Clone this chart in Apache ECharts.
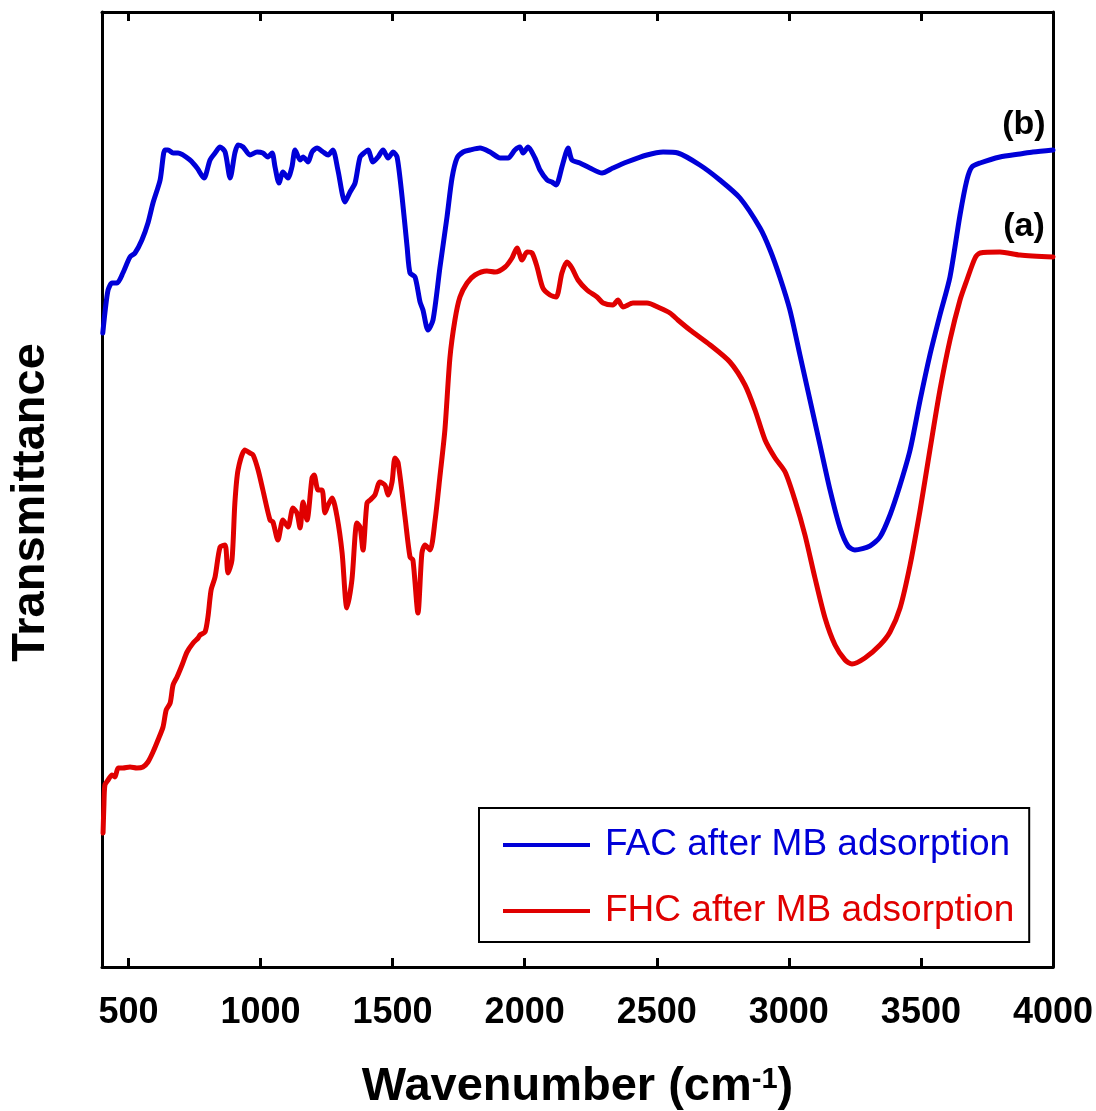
<!DOCTYPE html>
<html>
<head>
<meta charset="utf-8">
<script src="https://cdn.jsdelivr.net/npm/echarts@6/dist/echarts.min.js"></script>
<style>
  html, body { margin: 0; padding: 0; background: #fff; }
  #chart { width: 1096px; height: 1111px; }
</style>
</head>
<body>
<div id="chart"></div>
<script>
// Wavenumber (cm-1) and transmittance (arbitrary units)
const xTicks = [500, 1000, 1500, 2000, 2500, 3000, 3500, 4000];

const facWn = [403, 411, 423, 438, 457, 479, 506, 525, 551, 574, 593, 620, 638, 650, 669, 688, 733, 760, 786, 809, 828, 847, 866, 885, 903, 915, 934, 960, 987, 1009, 1028, 1044, 1055, 1070, 1085, 1104, 1119, 1131, 1150, 1161, 1180, 1195, 1214, 1237, 1256, 1274, 1293, 1320, 1339, 1358, 1377, 1396, 1407, 1426, 1445, 1464, 1483, 1502, 1517, 1536, 1555, 1566, 1585, 1604, 1615, 1634, 1653, 1679, 1706, 1725, 1744, 1767, 1793, 1831, 1869, 1907, 1937, 1963, 1982, 1994, 2013, 2039, 2058, 2085, 2103, 2119, 2141, 2156, 2164, 2179, 2209, 2247, 2293, 2334, 2387, 2463, 2524, 2580, 2663, 2739, 2815, 2891, 2929, 2967, 3004, 3042, 3080, 3118, 3156, 3194, 3224, 3250, 3307, 3345, 3383, 3421, 3459, 3497, 3534, 3572, 3610, 3648, 3674, 3693, 3724, 3799, 3875, 3924, 4000];
const facT = [63.4, 65.4, 67.7, 68.4, 68.4, 69.4, 71.0, 71.4, 72.7, 74.4, 76.4, 78.7, 81.7, 81.7, 81.4, 81.4, 80.7, 79.9, 78.9, 80.7, 81.4, 82.0, 81.5, 78.9, 81.4, 82.2, 82.0, 81.2, 81.5, 81.4, 81.0, 81.4, 80.0, 78.4, 79.5, 78.9, 80.0, 81.7, 80.7, 81.0, 80.5, 81.5, 81.9, 81.5, 81.2, 81.7, 79.7, 76.5, 77.5, 78.4, 81.0, 81.5, 81.7, 80.5, 81.0, 81.7, 80.9, 81.5, 81.0, 77.0, 72.0, 69.4, 69.0, 66.5, 65.7, 63.7, 64.7, 69.9, 75.0, 78.9, 80.9, 81.5, 81.7, 81.9, 81.5, 80.9, 80.9, 81.7, 82.0, 81.4, 82.0, 80.9, 79.7, 78.7, 78.5, 78.2, 80.0, 81.4, 81.9, 80.7, 80.4, 79.9, 79.4, 79.9, 80.5, 81.2, 81.5, 81.4, 80.2, 78.7, 76.9, 73.9, 71.7, 68.9, 65.7, 61.2, 56.7, 52.2, 47.7, 43.9, 42.1, 41.7, 42.1, 43.0, 45.2, 48.2, 51.7, 56.7, 61.2, 65.2, 69.0, 75.2, 78.7, 80.0, 80.4, 81.0, 81.3, 81.5, 81.7];

const fhcWn = [404, 407, 411, 423, 438, 449, 461, 479, 506, 532, 555, 574, 593, 612, 631, 643, 658, 669, 684, 703, 722, 745, 764, 771, 790, 801, 813, 828, 847, 866, 877, 892, 903, 915, 941, 960, 972, 991, 1009, 1036, 1047, 1066, 1085, 1104, 1123, 1138, 1150, 1161, 1176, 1195, 1203, 1218, 1233, 1244, 1256, 1271, 1290, 1309, 1327, 1346, 1365, 1377, 1388, 1403, 1415, 1433, 1452, 1471, 1483, 1498, 1509, 1521, 1547, 1566, 1577, 1596, 1611, 1623, 1642, 1661, 1679, 1698, 1717, 1736, 1755, 1782, 1812, 1857, 1888, 1926, 1952, 1971, 1990, 2009, 2028, 2047, 2069, 2096, 2119, 2141, 2160, 2179, 2202, 2236, 2274, 2297, 2334, 2353, 2372, 2410, 2463, 2512, 2550, 2580, 2626, 2702, 2777, 2834, 2872, 2910, 2948, 2986, 3023, 3061, 3099, 3137, 3175, 3213, 3239, 3288, 3345, 3383, 3421, 3459, 3497, 3534, 3572, 3610, 3648, 3674, 3705, 3724, 3799, 3875, 4000];
const fhcT = [13.4, 16.0, 18.2, 18.7, 19.2, 19.0, 19.9, 19.9, 20.0, 19.9, 20.0, 20.5, 21.5, 22.7, 24.0, 25.7, 26.4, 28.2, 29.0, 30.2, 31.5, 32.4, 32.9, 33.2, 33.5, 35.0, 37.7, 39.0, 42.0, 42.2, 39.4, 40.7, 46.4, 49.7, 51.7, 51.4, 51.2, 49.7, 47.7, 44.7, 44.5, 42.7, 44.7, 44.0, 45.9, 45.4, 43.9, 46.5, 44.7, 48.9, 49.2, 47.7, 47.7, 45.4, 46.2, 46.9, 45.0, 41.4, 35.9, 38.7, 44.4, 44.0, 41.7, 46.4, 46.7, 47.2, 48.5, 48.2, 47.2, 48.5, 50.9, 50.4, 45.0, 41.0, 40.7, 35.4, 41.4, 42.2, 41.7, 44.7, 49.0, 53.7, 60.9, 64.7, 67.0, 68.4, 69.2, 69.6, 69.5, 70.0, 70.9, 71.9, 70.7, 71.5, 71.4, 70.0, 67.9, 67.2, 67.0, 69.4, 70.5, 69.9, 68.7, 67.7, 67.0, 66.4, 66.2, 66.7, 66.0, 66.4, 66.4, 65.9, 65.4, 64.7, 63.7, 62.2, 60.5, 58.2, 55.7, 52.7, 50.9, 49.5, 46.7, 43.2, 38.9, 34.9, 32.2, 30.7, 30.3, 30.9, 32.2, 33.5, 35.9, 40.2, 45.7, 51.7, 57.7, 62.7, 66.7, 68.7, 70.9, 71.4, 71.5, 71.2, 71.0];

const seriesNames = ['FAC after MB adsorption', 'FHC after MB adsorption'];
const curveLabels = ['(b)', '(a)'];
const curveLabelPos = [[3890, 84.2], [3890, 74.0]];

const BLUE = '#0000d8';
const RED = '#e00000';
const FONT = '"Liberation Sans", Arial, Helvetica, sans-serif';

function zip(xs, ys) { return xs.map((x, i) => [x, ys[i]]); }

const chart = echarts.init(document.getElementById('chart'), null, { renderer: 'canvas' });

const axisLineStyle = { color: '#000', width: 3 };

chart.setOption({
  animation: false,
  backgroundColor: '#fff',
  textStyle: { fontFamily: FONT },
  grid: { left: 102, right: 43, top: 12, bottom: 144, containLabel: false, outerBoundsMode: 'none' },
  legend: {
    orient: 'vertical',
    left: 479,
    top: 808,
    icon: 'rect',
    itemWidth: 87,
    itemHeight: 4,
    itemGap: 26,
    padding: [17, 15, 11, 24],
    borderColor: '#000',
    borderWidth: 2,
    backgroundColor: '#fff',
    selectedMode: false,
    textStyle: { fontSize: 37, fontFamily: FONT, lineHeight: 40, padding: [0, 0, 0, 10] },
    data: [
      { name: seriesNames[0], textStyle: { color: BLUE } },
      { name: seriesNames[1], textStyle: { color: RED } }
    ]
  },
  xAxis: [
    {
      type: 'value',
      position: 'bottom',
      min: 400,
      max: 4000,
      splitLine: { show: false },
      axisLine: { show: true, onZero: false, lineStyle: axisLineStyle },
      axisTick: { show: true, inside: true, length: 9, lineStyle: { color: '#000', width: 3 }, customValues: xTicks },
      axisLabel: {
        show: true, customValues: xTicks, margin: 28,
        formatter: v => String(v),
        fontSize: 36, fontWeight: 'bold', color: '#000', fontFamily: FONT
      },
      name: '{a|Wavenumber (cm}{s|-1}{a|)}',
      nameLocation: 'middle',
      nameGap: 92,
      nameTextStyle: {
        rich: {
          a: { fontSize: 47, fontWeight: 'bold', color: '#000', fontFamily: FONT, lineHeight: 52, verticalAlign: 'bottom' },
          s: { fontSize: 29, fontWeight: 'bold', color: '#000', fontFamily: FONT, lineHeight: 52, verticalAlign: 'top', padding: [6, 0, 0, 0] }
        }
      }
    },
    {
      type: 'value',
      position: 'top',
      min: 400,
      max: 4000,
      splitLine: { show: false },
      axisLine: { show: true, onZero: false, lineStyle: axisLineStyle },
      axisTick: { show: true, inside: true, length: 9, lineStyle: { color: '#000', width: 3 }, customValues: xTicks },
      axisLabel: { show: false }
    }
  ],
  yAxis: [
    {
      type: 'value',
      position: 'left',
      min: 0,
      max: 95.5,
      splitLine: { show: false },
      axisLine: { show: true, onZero: false, lineStyle: axisLineStyle },
      axisTick: { show: false },
      axisLabel: { show: false },
      name: 'Transmittance',
      nameLocation: 'middle',
      nameGap: 47,
      nameRotate: 90,
      nameTextStyle: { fontSize: 47, fontWeight: 'bold', color: '#000', fontFamily: FONT, padding: [0, 26, 0, 0] }
    },
    {
      type: 'value',
      position: 'right',
      min: 0,
      max: 95.5,
      splitLine: { show: false },
      axisLine: { show: true, onZero: false, lineStyle: axisLineStyle },
      axisTick: { show: false },
      axisLabel: { show: false }
    }
  ],
  series: [
    {
      name: seriesNames[0],
      type: 'line',
      xAxisIndex: 0,
      yAxisIndex: 0,
      data: zip(facWn, facT),
      showSymbol: false,
      smooth: 0.25,
      lineStyle: { color: BLUE, width: 5, join: 'round', cap: 'round' },
      itemStyle: { color: BLUE },
      z: 3
    },
    {
      name: seriesNames[1],
      type: 'line',
      xAxisIndex: 0,
      yAxisIndex: 0,
      data: zip(fhcWn, fhcT),
      showSymbol: false,
      smooth: 0.25,
      lineStyle: { color: RED, width: 5, join: 'round', cap: 'round' },
      itemStyle: { color: RED },
      z: 2
    }
  ]
});

// curve labels (b) and (a), placed in data coordinates near the right end
chart.setOption({
  graphic: curveLabels.map((t, i) => {
    const p = chart.convertToPixel({ xAxisIndex: 0, yAxisIndex: 0 }, curveLabelPos[i]);
    return {
      type: 'text',
      x: p[0], y: p[1],
      style: { text: t, fontSize: 34, fontWeight: 'bold', fill: '#000', fontFamily: FONT, align: 'center', verticalAlign: 'middle' },
      z: 10
    };
  })
});
</script>
</body>
</html>
